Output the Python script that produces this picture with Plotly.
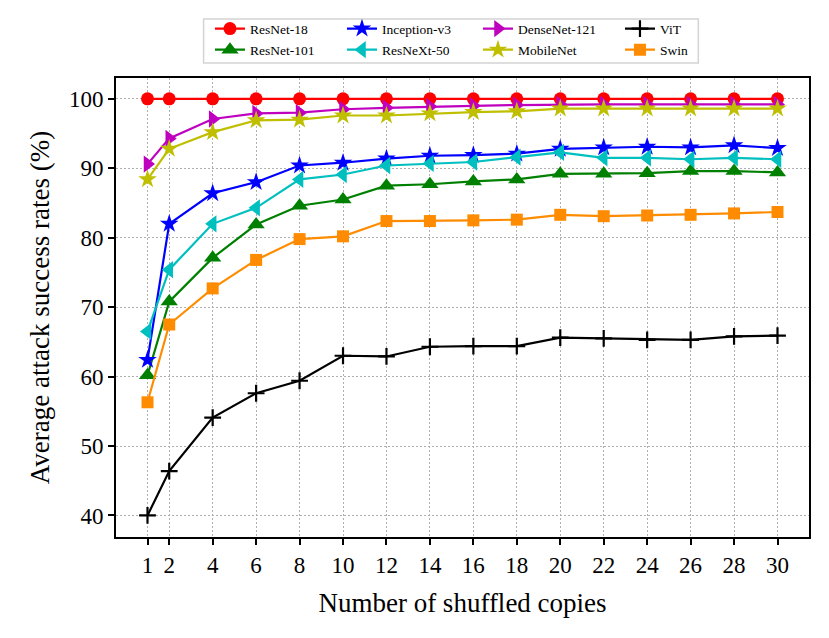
import plotly.graph_objects as go

copies = [1, 2, 4, 6, 8, 10, 12, 14, 16, 18, 20, 22, 24, 26, 28, 30]
x_ticks = [1, 2, 4, 6, 8, 10, 12, 14, 16, 18, 20, 22, 24, 26, 28, 30]
y_ticks = [40, 50, 60, 70, 80, 90, 100]

resnet18 = [100.0] * 16
resnet101 = [60.2, 70.8, 77.1, 81.9, 84.6, 85.5, 87.5, 87.7, 88.1, 88.4, 89.2, 89.2, 89.3, 89.6, 89.6, 89.4]
inception_v3 = [62.4, 82.0, 86.4, 88.0, 90.4, 90.8, 91.4, 91.8, 91.9, 92.1, 92.8, 93.0, 93.1, 93.0, 93.3, 92.9]
resnext50 = [66.5, 75.4, 82.0, 84.3, 88.4, 89.1, 90.4, 90.7, 90.9, 91.6, 92.3, 91.5, 91.5, 91.3, 91.5, 91.3]
densenet121 = [90.6, 94.3, 97.1, 97.9, 98.0, 98.5, 98.7, 98.9, 99.0, 99.1, 99.2, 99.2, 99.2, 99.2, 99.2, 99.2]
mobilenet = [88.4, 92.8, 95.2, 96.9, 97.0, 97.6, 97.6, 97.9, 98.1, 98.2, 98.6, 98.6, 98.6, 98.6, 98.6, 98.6]
vit = [40.0, 46.4, 54.1, 57.6, 59.4, 63.0, 62.9, 64.3, 64.4, 64.4, 65.6, 65.5, 65.3, 65.3, 65.8, 65.9]
swin = [56.3, 67.5, 72.7, 76.8, 79.8, 80.2, 82.4, 82.4, 82.5, 82.6, 83.3, 83.1, 83.2, 83.3, 83.5, 83.7]

# name, values, color, symbol, size, legend id, legend entry width
series = [
    ("ResNet-18", resnet18, "#ff0000", "circle", 13, "legend", 87),
    ("ResNet-101", resnet101, "#008000", "triangle-up", 15, "legend2", 87),
    ("Inception-v3", inception_v3, "#0000ff", "star", 14, "legend", 91),
    ("ResNeXt-50", resnext50, "#00bfbf", "triangle-left", 15, "legend2", 91),
    ("DenseNet-121", densenet121, "#bf00bf", "triangle-right", 15, "legend", 97),
    ("MobileNet", mobilenet, "#bfbf00", "star", 14, "legend2", 97),
    ("ViT", vit, "#000000", "cross-thin", 12, "legend", 40),
    ("Swin", swin, "#ff8c00", "square", 12, "legend2", 40),
]

fig = go.Figure()
for name, vals, color, sym, size, leg, lw in series:
    marker = dict(color=color, symbol=sym, size=size)
    if sym == "cross-thin":
        marker["line"] = dict(color=color, width=2.2)
    fig.add_trace(go.Scatter(
        x=copies, y=vals, name=name, mode="lines+markers",
        line=dict(color=color, width=2.2),
        marker=marker, legend=leg, legendwidth=lw,
    ))

font_family = "Liberation Serif"
axis_common = dict(
    showline=True, linecolor="black", linewidth=1.8, mirror=True,
    ticks="outside", ticklen=6, tickwidth=1.5, tickcolor="black",
    showgrid=True, gridcolor="#b0b0b0", gridwidth=1.3, griddash="1.5px,2.5px",
    zeroline=False, automargin=False,
    tickfont=dict(family=font_family, size=23, color="black"),
    title_font=dict(family=font_family, size=27, color="black"),
)

fig.update_layout(
    width=821, height=630,
    margin=dict(l=108, r=20, t=70, b=101, autoexpand=False),
    plot_bgcolor="white", paper_bgcolor="white",
    font=dict(family=font_family, color="black"),
    xaxis=dict(range=[-0.45, 31.45], tickvals=x_ticks,
               title=dict(text="Number of shuffled copies", standoff=17), **axis_common),
    yaxis=dict(range=[36.9, 103.0], tickvals=y_ticks,
               title=dict(text="Average attack success rates (%)", standoff=12), **axis_common),
    legend=dict(orientation="h", x=0.1356, y=1.141, xanchor="left", yanchor="top",
                font=dict(family=font_family, size=13.5, color="black"),
                bgcolor="rgba(0,0,0,0)", borderwidth=0, tracegroupgap=0),
    legend2=dict(orientation="h", x=0.1356, y=1.095, xanchor="left", yanchor="top",
                 font=dict(family=font_family, size=13.5, color="black"),
                 bgcolor="rgba(0,0,0,0)", borderwidth=0, tracegroupgap=0),
    shapes=[dict(type="rect", xref="paper", yref="paper",
                 x0=0.1264, x1=0.8403, y0=1.0327, y1=1.1285,
                 line=dict(color="#d4d4d4", width=1.5), fillcolor="rgba(0,0,0,0)",
                 layer="below")],
    showlegend=True,
)

fig.write_html("out.html")
